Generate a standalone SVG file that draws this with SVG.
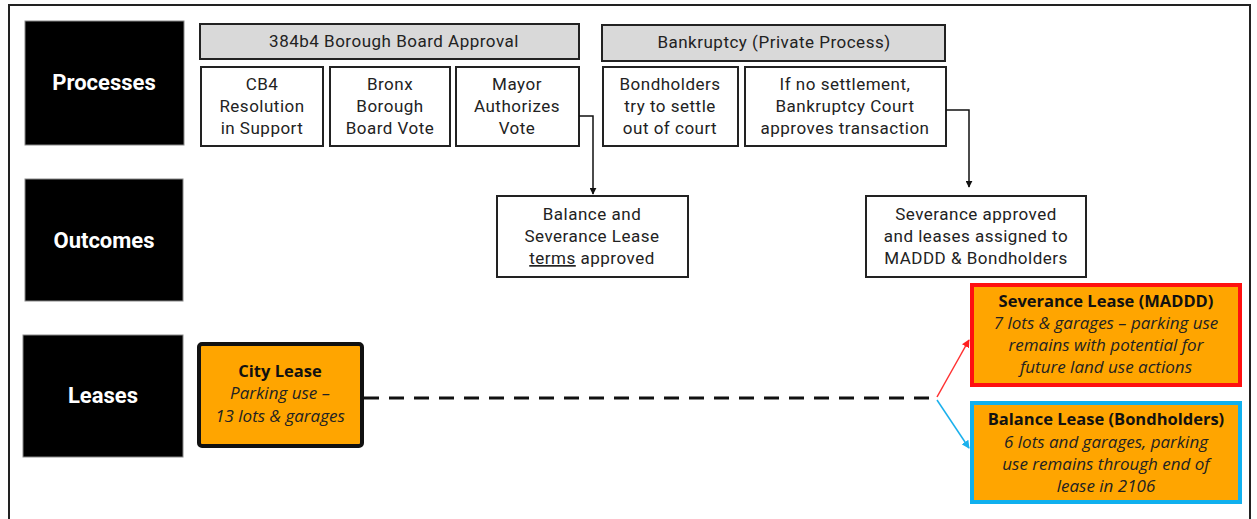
<svg xmlns="http://www.w3.org/2000/svg" width="1257" height="519" viewBox="0 0 1257 519">
<style>
.lbl{fill:#000;stroke:#888;stroke-width:1}
.lt{font-family:Roboto,"Liberation Sans",sans-serif;font-weight:bold;font-size:22px;fill:#fff;text-anchor:middle}
.hdr{fill:#d9d9d9;stroke:#222;stroke-width:2}
.box{fill:#fff;stroke:#222;stroke-width:2}
.t{font-family:Roboto,"Liberation Sans",sans-serif;font-size:17px;letter-spacing:0.5px;fill:#222;text-anchor:middle}
.ob{fill:#ffa500}
.bt{font-family:"Open Sans","Liberation Sans",sans-serif;font-weight:bold;font-size:16.5px;fill:#111;text-anchor:middle}
.it{font-family:"Open Sans","Liberation Sans",sans-serif;font-style:italic;font-size:17px;fill:#222;text-anchor:middle}
.conn{fill:none;stroke:#111;stroke-width:1.5}
</style>
<defs>
<marker id="ah" viewBox="0 0 10 10" refX="9" refY="5" markerWidth="7" markerHeight="7" orient="auto" markerUnits="userSpaceOnUse"><path d="M0,0 L10,5 L0,10 z" fill="#111"/></marker>
<marker id="ahr" viewBox="0 0 10 10" refX="9" refY="5" markerWidth="8" markerHeight="8" orient="auto" markerUnits="userSpaceOnUse"><path d="M0,0 L10,5 L0,10 z" fill="#ff2020"/></marker>
<marker id="ahb" viewBox="0 0 10 10" refX="9" refY="5" markerWidth="8" markerHeight="8" orient="auto" markerUnits="userSpaceOnUse"><path d="M0,0 L10,5 L0,10 z" fill="#1ab0ec"/></marker>
</defs>
<rect x="0" y="0" width="1257" height="519" fill="#fff"/>
<path d="M9,525 V5 H1250 V525" fill="none" stroke="#222" stroke-width="2"/>

<g id="lbl-processes"><rect class="lbl" x="25" y="21" width="159" height="124"/><text class="lt" x="104" y="90">Processes</text></g>
<g id="lbl-outcomes"><rect class="lbl" x="25" y="179" width="158" height="122"/><text class="lt" x="104" y="248">Outcomes</text></g>
<g id="lbl-leases"><rect class="lbl" x="23" y="335" width="160" height="122"/><text class="lt" x="103" y="403">Leases</text></g>

<g id="hdr-borough"><rect class="hdr" x="200" y="24" width="379" height="35"/><text class="t" x="394" y="47">384b4 Borough Board Approval</text></g>
<g id="hdr-bankruptcy"><rect class="hdr" x="602" y="25" width="343" height="36"/><text class="t" x="774" y="48">Bankruptcy (Private Process)</text></g>

<g id="p-cb4"><rect class="box" x="201" y="67" width="122" height="79"/><text class="t" x="262" y="90">CB4</text><text class="t" x="262" y="112">Resolution</text><text class="t" x="262" y="134">in Support</text></g>
<g id="p-bronx"><rect class="box" x="330" y="67" width="120" height="79"/><text class="t" x="390" y="90">Bronx</text><text class="t" x="390" y="112">Borough</text><text class="t" x="390" y="134">Board Vote</text></g>
<g id="p-mayor"><rect class="box" x="456" y="67" width="123" height="79"/><text class="t" x="517" y="90">Mayor</text><text class="t" x="517" y="112">Authorizes</text><text class="t" x="517" y="134">Vote</text></g>
<g id="p-bond"><rect class="box" x="603" y="67" width="135" height="79"/><text class="t" x="670" y="90">Bondholders</text><text class="t" x="670" y="112">try to settle</text><text class="t" x="670" y="134">out of court</text></g>
<g id="p-court"><rect class="box" x="745" y="67" width="201" height="79"/><text class="t" x="845" y="90">If no settlement,</text><text class="t" x="845" y="112">Bankruptcy Court</text><text class="t" x="845" y="134">approves transaction</text></g>

<g id="o-terms"><rect class="box" x="497" y="196" width="191" height="81"/><text class="t" x="592" y="220">Balance and</text><text class="t" x="592" y="242">Severance Lease</text><text class="t" x="592" y="264"><tspan text-decoration="underline">terms</tspan> approved</text></g>
<g id="o-sev"><rect class="box" x="866" y="196" width="220" height="81"/><text class="t" x="976" y="220">Severance approved</text><text class="t" x="976" y="242">and leases assigned to</text><text class="t" x="976" y="264">MADDD &amp; Bondholders</text></g>

<g id="l-city"><rect class="ob" x="199" y="344" width="163" height="102" rx="3" stroke="#111" stroke-width="4"/><text class="bt" x="280" y="377">City Lease</text><text class="it" x="280" y="399">Parking use –</text><text class="it" x="280" y="422">13 lots &amp; garages</text></g>
<g id="l-sev"><rect class="ob" x="972" y="285" width="268" height="100" stroke="#ff1010" stroke-width="4"/><text class="bt" x="1106" y="307">Severance Lease (MADDD)</text><text class="it" x="1106" y="329">7 lots &amp; garages – parking use</text><text class="it" x="1106" y="351">remains with potential for</text><text class="it" x="1106" y="373">future land use actions</text></g>
<g id="l-bal"><rect class="ob" x="972" y="403" width="268" height="99" stroke="#10b0ee" stroke-width="4"/><text class="bt" x="1106" y="425">Balance Lease (Bondholders)</text><text class="it" x="1106" y="448">6 lots and garages, parking</text><text class="it" x="1106" y="470">use remains through end of</text><text class="it" x="1106" y="492">lease in 2106</text></g>

<g id="connectors">
<path class="conn" d="M579,116 H593 V194" marker-end="url(#ah)"/>
<path class="conn" d="M946,110 H969 V187" marker-end="url(#ah)"/>
<path d="M364,398 H937" fill="none" stroke="#111" stroke-width="3" stroke-dasharray="15,10"/>
<path d="M937,397 L969,340" fill="none" stroke="#ff3030" stroke-width="1.5" marker-end="url(#ahr)"/>
<path d="M937,400 L969,448" fill="none" stroke="#1ab0ec" stroke-width="1.5" marker-end="url(#ahb)"/>
</g>
</svg>
